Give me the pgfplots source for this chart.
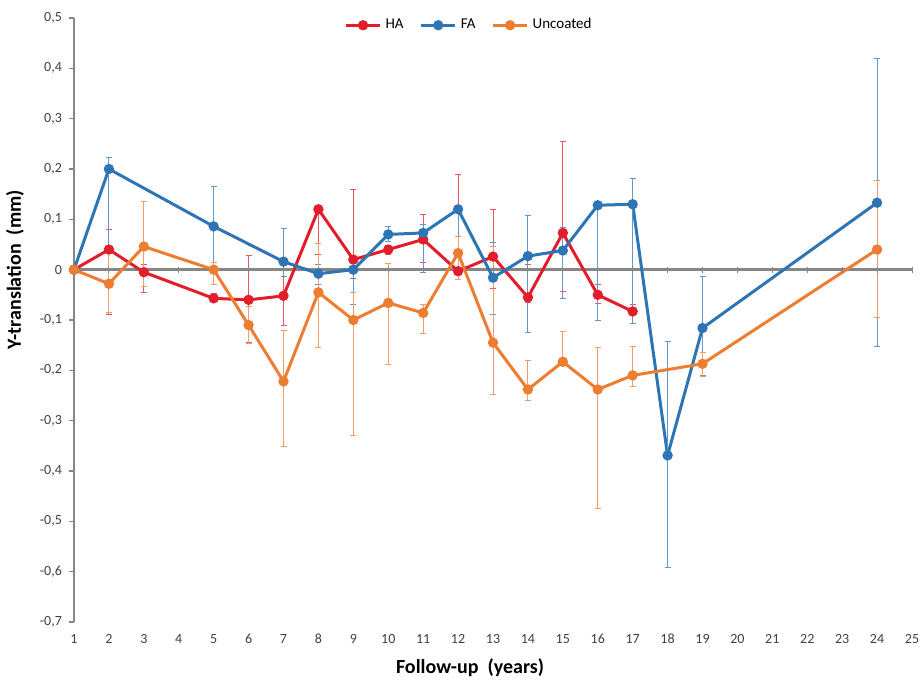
\documentclass[border=0pt]{standalone}
\usepackage{pgfplots}
\usepackage{pgfplotstable}
\pgfplotsset{compat=1.18}
\usepackage{fontspec}
\setmainfont{Carlito}
\definecolor{haRed}{RGB}{226,29,44}
\definecolor{faBlue}{RGB}{46,117,182}
\definecolor{unOrange}{RGB}{237,125,49}
\definecolor{axGray}{RGB}{134,134,134}

\pgfplotstableread{
x y ep em
1 0 0 0
2 0.040 0.040 0.130
3 -0.005 0.015 0.040
5 -0.057 0.009 0.006
6 -0.060 0.088 0.085
7 -0.052 0.060 0.058
8 0.120 0.005 0.090
9 0.020 0.140 0.038
10 0.040 0.008 0.010
11 0.060 0.050 0.046
12 -0.003 0.193 0.017
13 0.026 0.094 0.064
14 -0.055 0.065 0.010
15 0.073 0.182 0.117
16 -0.050 0.020 0.018
17 -0.083 0.013 0.007
}\haTable

\pgfplotstableread{
x y ep em
1 0 0 0
2 0.200 0.022 0.154
5 0.086 0.079 0.116
7 0.016 0.066 0.029
8 -0.008 0.018 0.022
9 0.000 0.005 0.070
10 0.070 0.015 0.015
11 0.073 0.017 0.079
12 0.120 0.005 0.130
13 -0.016 0.070 0.074
14 0.027 0.081 0.152
15 0.038 0.046 0.095
16 0.128 0.002 0.228
17 0.130 0.051 0.237
18 -0.369 0.226 0.223
19 -0.116 0.103 0.094
24 0.133 0.287 0.285
}\faTable

\pgfplotstableread{
x y ep em
1 0 0 0
2 -0.028 0.074 0.057
3 0.046 0.089 0.080
5 0.000 0.014 0.030
6 -0.110 0.037 0.036
7 -0.222 0.102 0.130
8 -0.045 0.097 0.110
9 -0.100 0.055 0.230
10 -0.066 0.078 0.123
11 -0.086 0.016 0.040
12 0.033 0.033 0.053
13 -0.145 0.191 0.103
14 -0.238 0.058 0.022
15 -0.183 0.060 0.007
16 -0.238 0.083 0.237
17 -0.210 0.058 0.022
19 -0.187 0.022 0.025
24 0.040 0.138 0.135
}\unTable

\begin{document}
\begin{tikzpicture}
\begin{axis}[
  scale only axis, width=419pt, height=302pt,
  xmin=1, xmax=25, ymin=-0.7, ymax=0.5,
  clip=false,
  axis y line*=left, axis x line*=bottom,
  x axis line style={draw=none},
  y axis line style={axGray, line width=0.6pt},
  xtick={1,...,25},
  ytick={-0.7,-0.6,-0.5,-0.4,-0.3,-0.2,-0.1,0,0.1,0.2,0.3,0.4,0.5},
  major x tick style={draw=none},
  major y tick style={axGray, line width=0.6pt},
  tick align=outside, major tick length=2.5pt,
  ticklabel style={font=\fontsize{7}{8}\selectfont, text=black!75},
  yticklabel style={/pgf/number format/.cd, use comma, fixed, precision=1, assume math mode=true},
  xticklabel style={/pgf/number format/assume math mode=true},
  xlabel={Follow-up\ \ (years)},
  ylabel={Y-translation\ \ (mm)},
  xlabel style={at={(axis description cs:0.4726,-0.0762)}, anchor=center, font=\fontsize{10}{12}\selectfont\bfseries},
  ylabel style={at={(axis description cs:-0.0704,0.583)}, anchor=center, font=\fontsize{10}{12}\selectfont\bfseries},
  legend style={at={(axis description cs:0.4726,0.988)}, anchor=center, draw=none, fill=none,
    font=\fontsize{7.5}{9}\selectfont, /tikz/every even column/.append style={column sep=6pt}},
  legend columns=3,
]
\addplot[axGray, line width=1.2pt, forget plot] coordinates {(1,0) (25,0)};
\addplot[only marks, mark=|, mark size=1.5pt, axGray, forget plot, mark options={line width=0.5pt}] coordinates {(2,0) (3,0) (4,0) (5,0) (6,0) (7,0) (8,0) (9,0) (10,0) (11,0) (12,0) (13,0) (14,0) (15,0) (16,0) (17,0) (18,0) (19,0) (20,0) (21,0) (22,0) (23,0) (24,0) (25,0)};

\addplot[haRed, line width=1.5pt, mark=*, mark size=1.8pt, mark options={solid},
  error bars/.cd, y dir=both, y explicit, error mark=-,
  error bar style={line width=0.5pt, color=haRed!75},
  error mark options={rotate=90, haRed!75, line width=0.5pt, mark size=1.5pt}]
  table[x=x, y=y, y error plus=ep, y error minus=em] {\haTable};
\addlegendentry{HA}

\addplot[faBlue, line width=1.5pt, mark=*, mark size=1.8pt, mark options={solid},
  error bars/.cd, y dir=both, y explicit, error mark=-,
  error bar style={line width=0.5pt, color=faBlue!75},
  error mark options={rotate=90, faBlue!75, line width=0.5pt, mark size=1.5pt}]
  table[x=x, y=y, y error plus=ep, y error minus=em] {\faTable};
\addlegendentry{FA}

\addplot[unOrange, line width=1.5pt, mark=*, mark size=1.8pt, mark options={solid},
  error bars/.cd, y dir=both, y explicit, error mark=-,
  error bar style={line width=0.5pt, color=unOrange!75},
  error mark options={rotate=90, unOrange!75, line width=0.5pt, mark size=1.5pt}]
  table[x=x, y=y, y error plus=ep, y error minus=em] {\unTable};
\addlegendentry{Uncoated}
\end{axis}
\pgfresetboundingbox
\path[use as bounding box] ([shift={(-37pt,-29pt)}]current axis.south west) rectangle ([shift={(6pt,9pt)}]current axis.north east);
\end{tikzpicture}
\end{document}
